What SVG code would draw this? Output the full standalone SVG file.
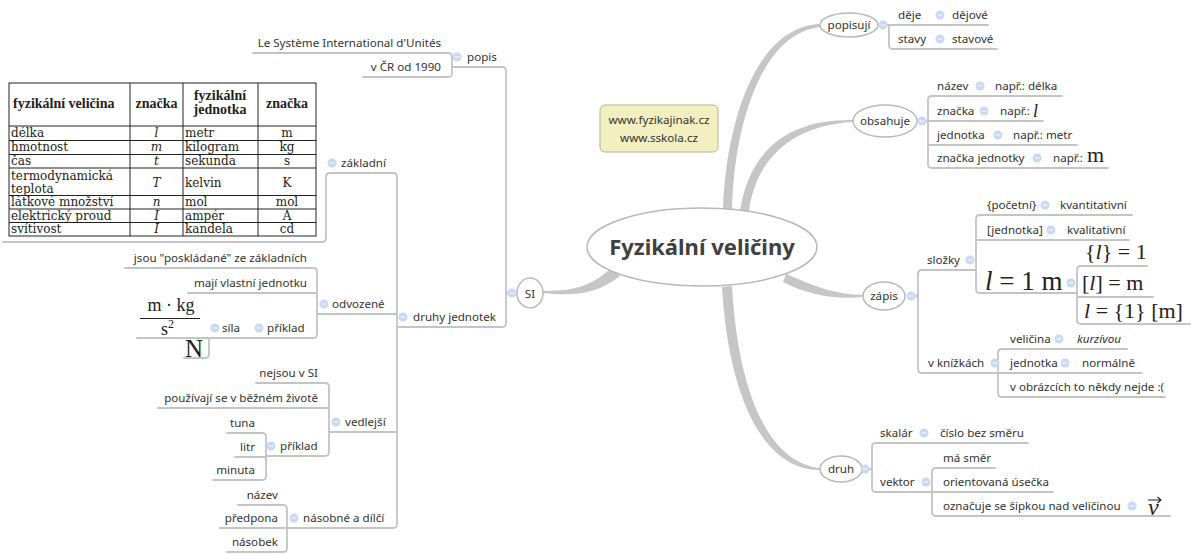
<svg xmlns="http://www.w3.org/2000/svg" width="1192" height="554" viewBox="0 0 1192 554">
<defs>
<style>
.t{font-family:"Noto Sans","Open Sans",sans-serif;font-size:11.6px;fill:#333}
.e{text-anchor:end}
.m{text-anchor:middle}
.it{font-style:italic}
.ln{fill:none;stroke:#c4c4c4;stroke-width:1.8;stroke-linecap:round}
.br{fill:#c6c6c6}
.nd{fill:#fff;stroke:#b9b9b9;stroke-width:1.5}
.ic{fill:#c8d9f1}
.ms{stroke:#eef4fc;stroke-width:1.2}
.tb{font-family:"DejaVu Serif","Liberation Serif",serif;font-size:12px;fill:#222}
.th{font-family:"Liberation Serif","Times New Roman",serif;font-size:14px;font-weight:bold;fill:#222}
.mt{font-family:"Liberation Serif","Times New Roman",serif;fill:#222}
</style>
<g id="icon"><circle r="4.5" class="ic"/><line x1="-2.5" x2="2.5" y1="0" y2="0" class="ms"/></g>
</defs>
<rect width="1192" height="554" fill="#fff"/>

<g id="connectors">
<path class="br" d="M723 210 C726 118 758 26 820 24 L820 27 C763 33 734 122 732 210 Z"/>
<path class="br" d="M740 211 C750 146 793 119 853 120 L853 122 C797 125 757 154 749 211 Z"/>
<path class="br" d="M786 274 C812 285 835 295 864 295 L864 297 C833 300 806 294 783 282 Z"/>
<path class="br" d="M722 287 C728 390 760 470 820 470 L820 468 C767 462 738 390 732 286 Z"/>
<path class="br" d="M611 268 C590 288 570 291 543 291 L543 293 C572 296 596 295 620 276 Z"/>
<path class="ln" d="M452 67 H502 Q506 67 506 71 V323 Q506 327 502 327 H397 M506 293 H508"/>
<path class="ln" d="M253 53 H448 Q452 53 452 57 V73 Q452 77 448 77 H363"/>
<path class="ln" d="M3 242 H322 Q326 242 326 238 V177 Q326 173 330 173 H393 Q397 173 397 177 V524 Q397 528 393 528 H287"/>
<path class="ln" d="M397 314 H317 M125 268 H313 Q317 268 317 272 V334 Q317 338 313 338 H137 M188 293 H317"/>
<path class="ln" d="M209 338 V354 Q209 358 205 358 H184"/>
<path class="ln" d="M397 432 H329 M256 383 H325 Q329 383 329 387 V452 Q329 456 325 456 H266 M158 408 H329"/>
<path class="ln" d="M227 433 H262 Q266 433 266 437 V476 Q266 480 262 480 H213 M235 457 H266"/>
<path class="ln" d="M238 505 H283 Q287 505 287 509 V548 Q287 552 283 552 H227 M220 528 H287"/>
<path class="ln" d="M886 25 H988 M889 25 V45 Q889 49 893 49 H997"/>
<path class="ln" d="M1062 96 H932 Q928 96 928 100 V164 Q928 168 932 168 H1108 M925 121 H1043 M928 145 H1077"/>
<path class="ln" d="M975 270 H922 Q918 270 918 274 V369 Q918 373 922 373 H1142 M914 296 H918"/>
<path class="ln" d="M1132 215 H980 Q976 215 976 219 V289 Q976 293 980 293 H1077 M976 240 H1129"/>
<path class="ln" d="M1147 266 H1081 Q1077 266 1077 270 V320 Q1077 324 1081 324 H1190 M1077 297 H1153"/>
<path class="ln" d="M1127 349 H1002 Q998 349 998 353 V393 Q998 397 1002 397 H1165"/>
<path class="ln" d="M1028 443 H876 Q872 443 872 447 V488 Q872 492 876 492 H1053 M868 469 H872"/>
<path class="ln" d="M995 468 H936 Q932 468 932 472 V512 Q932 516 936 516 H1170"/>
</g>

<g id="central">
<ellipse cx="702" cy="247" rx="115" ry="39" class="nd"/>
<text x="702" y="255" class="t m" style="font-size:22px;font-weight:bold;fill:#404040">Fyzikální veličiny</text>
</g>

<g id="note">
<rect x="600" y="105" width="118" height="47" rx="5" fill="#f3efc0" stroke="#b9b48c"/>
<text x="659" y="124" class="t m">www.fyzikajinak.cz</text>
<text x="659" y="142" class="t m">www.sskola.cz</text>
</g>

<g id="si">
<ellipse cx="530" cy="293" rx="13" ry="15" class="nd"/>
<text x="530" y="297.5" class="t m">SI</text>
<use href="#icon" x="512" y="293"/>
</g>
<g id="popis">
<use href="#icon" x="457" y="57"/>
<text x="467" y="60.5" class="t">popis</text>
<text x="441" y="46.5" class="t e">Le Système International d'Unités</text>
<text x="441" y="70.5" class="t e">v ČR od 1990</text>
</g>
<g id="druhy-jednotek">
<use href="#icon" x="403" y="317"/>
<text x="413" y="320.5" class="t">druhy jednotek</text>
</g>
<g id="zakladni">
<use href="#icon" x="332" y="163"/>
<text x="341" y="166.5" class="t">základní</text>
</g>
<g id="tabulka">
<rect x="9" y="83" width="307" height="153" fill="#fff" stroke="#222"/>
<path d="M130 83 V236 M183 83 V236 M258 83 V236 M9 126 H316 M9 140.5 H316 M9 154.5 H316 M9 168 H316 M9 195.5 H316 M9 209 H316 M9 222.5 H316" stroke="#222" stroke-width="1" fill="none"/>
<text x="13" y="108" class="th">fyzikální veličina</text>
<text x="156.5" y="108" class="th m">značka</text>
<text x="220" y="100" class="th m">fyzikální</text>
<text x="220" y="114" class="th m">jednotka</text>
<text x="287" y="108" class="th m">značka</text>
<text x="11" y="137" class="tb">délka</text><text x="156.5" y="137" class="tb m it">l</text><text x="185" y="137" class="tb">metr</text><text x="287" y="137" class="tb m">m</text>
<text x="11" y="151" class="tb">hmotnost</text><text x="156.5" y="151" class="tb m it">m</text><text x="185" y="151" class="tb">kilogram</text><text x="287" y="151" class="tb m">kg</text>
<text x="11" y="165" class="tb">čas</text><text x="156.5" y="165" class="tb m it">t</text><text x="185" y="165" class="tb">sekunda</text><text x="287" y="165" class="tb m">s</text>
<text x="11" y="180" class="tb">termodynamická</text><text x="11" y="193" class="tb">teplota</text><text x="156.5" y="187" class="tb m it">T</text><text x="185" y="187" class="tb">kelvin</text><text x="287" y="187" class="tb m">K</text>
<text x="11" y="206" class="tb">látkové množství</text><text x="156.5" y="206" class="tb m it">n</text><text x="185" y="206" class="tb">mol</text><text x="287" y="206" class="tb m">mol</text>
<text x="11" y="219.5" class="tb">elektrický proud</text><text x="156.5" y="219.5" class="tb m it">I</text><text x="185" y="219.5" class="tb">ampér</text><text x="287" y="219.5" class="tb m">A</text>
<text x="11" y="233" class="tb">svítivost</text><text x="156.5" y="233" class="tb m it">I</text><text x="185" y="233" class="tb">kandela</text><text x="287" y="233" class="tb m">cd</text>
</g>
<g id="odvozene">
<use href="#icon" x="324" y="304"/>
<text x="332" y="307.5" class="t">odvozené</text>
<text x="307" y="261.5" class="t e">jsou "poskládané" ze základních</text>
<text x="307" y="286.5" class="t e">mají vlastní jednotku</text>
</g>
<g id="priklad-odvozene">
<use href="#icon" x="259" y="328"/>
<text x="267" y="331.5" class="t">příklad</text>
</g>
<g id="sila">
<use href="#icon" x="215" y="328"/>
<text x="222" y="331.5" class="t">síla</text>
<text x="171" y="311" class="mt m" style="font-size:18px">m · kg</text>
<line x1="140" y1="318.5" x2="200" y2="318.5" stroke="#222" stroke-width="1"/>
<text x="161" y="335" class="mt" style="font-size:18px">s<tspan dy="-7" style="font-size:12px">2</tspan></text>
<text x="185" y="357" class="mt" style="font-size:25px">N</text>
</g>
<g id="vedlejsi">
<use href="#icon" x="336" y="422"/>
<text x="345" y="425.5" class="t">vedlejší</text>
<text x="318" y="376.5" class="t e">nejsou v SI</text>
<text x="318" y="401.5" class="t e">používají se v běžném životě</text>
</g>
<g id="priklad-vedlejsi">
<use href="#icon" x="271" y="446"/>
<text x="280" y="449.5" class="t">příklad</text>
<text x="255" y="426.5" class="t e">tuna</text>
<text x="255" y="450.5" class="t e">litr</text>
<text x="255" y="473.5" class="t e">minuta</text>
</g>
<g id="nasobne">
<use href="#icon" x="294" y="518"/>
<text x="303" y="521.5" class="t">násobné a dílčí</text>
<text x="278" y="498.5" class="t e">název</text>
<text x="278" y="521.5" class="t e">předpona</text>
<text x="278" y="545.5" class="t e">násobek</text>
</g>

<g id="popisuji">
<ellipse cx="849" cy="25" rx="29" ry="12" class="nd"/>
<text x="849" y="29" class="t m">popisují</text>
<use href="#icon" x="883" y="25"/>
<text x="898" y="18.5" class="t">děje</text><use href="#icon" x="940" y="15"/><text x="952" y="18.5" class="t">dějové</text>
<text x="898" y="42.5" class="t">stavy</text><use href="#icon" x="940" y="39"/><text x="952" y="42.5" class="t">stavové</text>
</g>
<g id="obsahuje">
<ellipse cx="885" cy="121" rx="32" ry="16" class="nd"/>
<text x="885" y="125" class="t m">obsahuje</text>
<use href="#icon" x="922" y="121"/>
<text x="937" y="89.5" class="t">název</text><use href="#icon" x="980" y="86"/><text x="995" y="89.5" class="t">např.: délka</text>
<text x="937" y="114.5" class="t">značka</text><use href="#icon" x="984" y="111"/><text x="1000" y="114.5" class="t">např.:</text><text x="1033" y="117" class="mt it" style="font-size:18px">l</text>
<text x="937" y="138.5" class="t">jednotka</text><use href="#icon" x="998" y="135"/><text x="1013" y="138.5" class="t">např.: metr</text>
<text x="937" y="161.5" class="t">značka jednotky</text><use href="#icon" x="1037" y="158"/><text x="1053" y="161.5" class="t">např.:</text><text x="1087" y="162" class="mt" style="font-size:22px">m</text>
</g>
<g id="zapis">
<ellipse cx="884" cy="296" rx="21" ry="14" class="nd"/>
<text x="884" y="300" class="t m">zápis</text>
<use href="#icon" x="911" y="296"/>
</g>
<g id="slozky">
<text x="927" y="263.5" class="t">složky</text><use href="#icon" x="970" y="260"/>
<text x="987" y="208.5" class="t">{početní}</text><use href="#icon" x="1045" y="205"/><text x="1060" y="208.5" class="t">kvantitativní</text>
<text x="987" y="233.5" class="t">[jednotka]</text><use href="#icon" x="1051" y="230"/><text x="1067" y="233.5" class="t">kvalitativní</text>
</g>
<g id="l-1m">
<text x="985" y="290" class="mt" style="font-size:27px"><tspan class="it">l</tspan> = 1 m</text>
<use href="#icon" x="1071" y="283"/>
<text x="1085" y="259" class="mt" style="font-size:22px">{<tspan class="it">l</tspan>} = 1</text>
<text x="1082" y="290" class="mt" style="font-size:22px">[<tspan class="it">l</tspan>] = m</text>
<text x="1084" y="318" class="mt" style="font-size:22px"><tspan class="it">l</tspan> = {1} [m]</text>
</g>
<g id="v-knizkach">
<text x="928" y="366.5" class="t">v knížkách</text><use href="#icon" x="995" y="363"/>
<text x="1010" y="342.5" class="t">veličina</text><use href="#icon" x="1059" y="339"/><text x="1077" y="342.5" class="t it">kurzívou</text>
<text x="1010" y="366.5" class="t">jednotka</text><use href="#icon" x="1065" y="363"/><text x="1082" y="366.5" class="t">normálně</text>
<text x="1010" y="390.5" class="t">v obrázcích to někdy nejde :(</text>
</g>
<g id="druh">
<ellipse cx="841" cy="469" rx="21" ry="13" class="nd"/>
<text x="841" y="473" class="t m">druh</text>
<use href="#icon" x="865" y="469"/>
<text x="880" y="436.5" class="t">skalár</text><use href="#icon" x="924" y="433"/><text x="940" y="436.5" class="t">číslo bez směru</text>
<text x="880" y="485.5" class="t">vektor</text><use href="#icon" x="926" y="482"/>
<text x="943" y="461.5" class="t">má směr</text>
<text x="943" y="485.5" class="t">orientovaná úsečka</text>
<text x="943" y="509.5" class="t">označuje se šipkou nad veličinou</text><use href="#icon" x="1132" y="506"/>
<text x="1148" y="515" class="mt it" style="font-size:24px">v</text>
<path d="M1148 500 H1161 M1157.5 497 L1161 500 L1157.5 503" fill="none" stroke="#222" stroke-width="1.1"/>
</g>
</svg>
